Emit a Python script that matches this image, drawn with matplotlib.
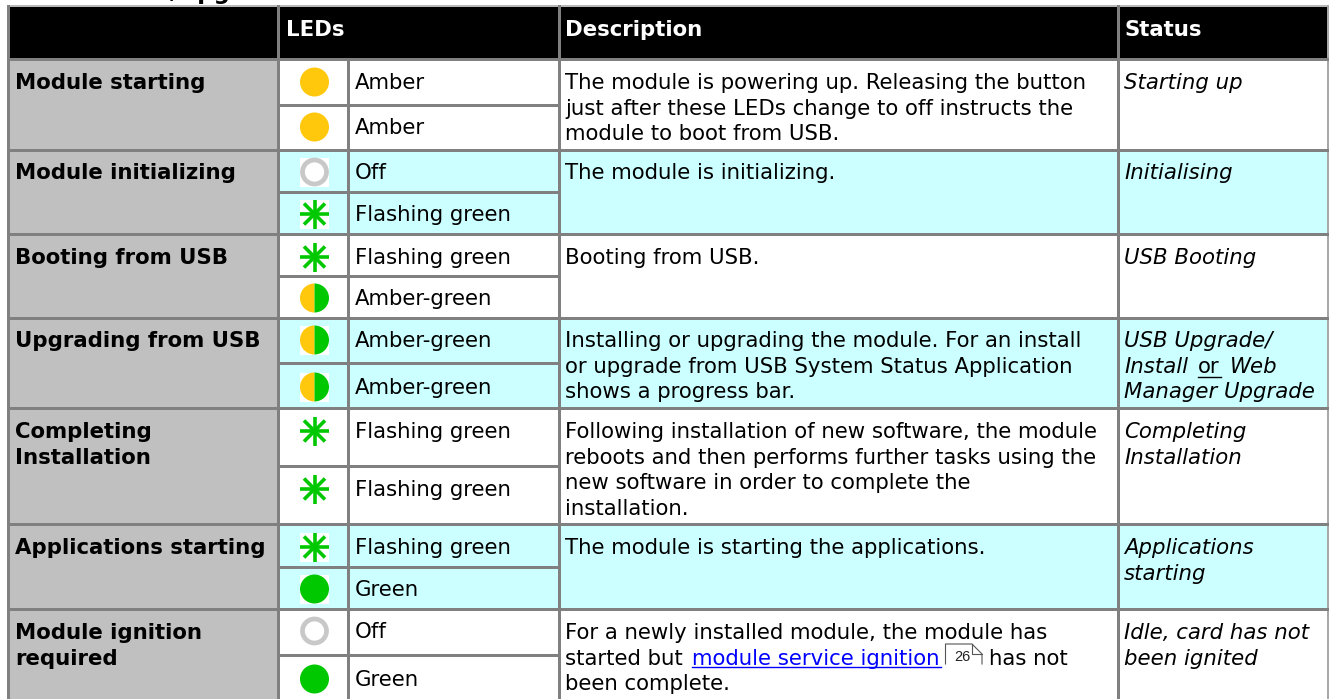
import matplotlib
matplotlib.use("Agg")
import matplotlib.pyplot as plt
from matplotlib.patches import Circle, Rectangle, Wedge

# table content
states = ["Module starting", "Module initializing", "Booting from USB", "Upgrading from USB",
          "Completing\nInstallation", "Applications starting", "Module ignition\nrequired"]
led_kinds = [["amber", "amber"], ["off", "flash"], ["flash", "both"], ["both", "both"],
             ["flash", "flash"], ["flash", "green"], ["off", "green"]]
led_labels = [["Amber", "Amber"], ["Off", "Flashing green"], ["Flashing green", "Amber-green"],
              ["Amber-green", "Amber-green"], ["Flashing green", "Flashing green"],
              ["Flashing green", "Green"], ["Off", "Green"]]
descriptions = [
    "The module is powering up. Releasing the button\njust after these LEDs change to off instructs the\nmodule to boot from USB.",
    "The module is initializing.",
    "Booting from USB.",
    "Installing or upgrading the module. For an install\nor upgrade from USB System Status Application\nshows a progress bar.",
    "Following installation of new software, the module\nreboots and then performs further tasks using the\nnew software in order to complete the\ninstallation.",
    "The module is starting the applications.",
    None,
]
statuses = ["Starting up", "Initialising", "USB Booting", None, "Completing\nInstallation",
            "Applications\nstarting", "Idle, card has not\nbeen ignited"]
headers = ["LEDs", "Description", "Status"]
heading = "Module Boot/Upgrade"

# layout in pixels
W, H = 1329, 699
col_x = [8, 278, 348, 559, 1118, 1328]
group_y = [59, 150, 234, 318, 408, 524, 609, 699]
sub_y = [105, 192, 276, 363, 466, 567, 655]
led_y = [[82, 127], [172, 214], [257, 298], [340, 387], [431, 489], [547, 589], [631, 679]]
text_y = [[88, 133], [178, 220], [263, 304], [346, 393], [437, 495], [553, 595], [637, 685]]
first_base = [88, 178, 263, 346, 437, 553, 638]
group_fill = ["white", "#ccffff", "white", "#ccffff", "white", "#ccffff", "white"]
LINE = 25.6
FS = 15.3
GREY = "#808080"
AMBER = "#ffc80d"
GREEN = "#00c800"

fig = plt.figure(figsize=(W / 100, H / 100), dpi=100)
ax = fig.add_axes([0, 0, 1, 1])
ax.set_xlim(0, W)
ax.set_ylim(H, 0)
ax.axis("off")


def txt(x, y, s, **kw):
    # multi-line text is split so each line sits on its own baseline
    kw.setdefault("color", "black")
    kw.setdefault("fontsize", FS)
    for n, part in enumerate(s.split("\n")):
        ax.text(x, y + 1 + n * LINE, part, va="baseline", ha="left", family="DejaVu Sans", zorder=6, **kw)


def hrule(x0, x1, y, lw=3.0):
    ax.add_patch(Rectangle((x0 - 1.5, y - lw / 2), x1 - x0 + 3, lw, fc=GREY, ec="none", zorder=4))


def vrule(x, y0, y1, lw=3.0):
    ax.add_patch(Rectangle((x - lw / 2, y0), lw, y1 - y0, fc=GREY, ec="none", zorder=4))


def led(cx, cy, kind, square):
    if square:
        ax.add_patch(Rectangle((cx - 14.5, cy - 14.5), 29, 29, fc="white", ec="none", zorder=2))
    if kind == "amber":
        ax.add_patch(Circle((cx, cy), 14.5, fc=AMBER, ec="none", zorder=3))
    elif kind == "green":
        ax.add_patch(Circle((cx, cy), 14.5, fc=GREEN, ec="none", zorder=3))
    elif kind == "off":
        ax.add_patch(Circle((cx, cy), 12, fc="white", ec="#c8c8c8", lw=3.4, zorder=3))
    elif kind == "both":
        ax.add_patch(Wedge((cx, cy), 14.5, 90, 270, fc=AMBER, ec="none", zorder=3))
        ax.add_patch(Wedge((cx, cy), 14.5, 270, 90, fc=GREEN, ec="none", zorder=3))
    else:
        for dx, dy in [(14.5, 0), (0, 14.5), (10.5, 10.5), (10.5, -10.5)]:
            ax.plot([cx - dx, cx + dx], [cy - dy, cy + dy], color=GREEN, lw=2.6,
                    solid_capstyle="butt", zorder=3)


# cell fills
ax.add_patch(Rectangle((col_x[0], 6), col_x[-1] - col_x[0], group_y[0] - 6, fc="black", ec="none"))
ax.add_patch(Rectangle((col_x[0], group_y[0]), col_x[1] - col_x[0], H - group_y[0], fc="#c0c0c0", ec="none"))
for i, c in enumerate(group_fill):
    ax.add_patch(Rectangle((col_x[1], group_y[i]), col_x[-1] - col_x[1], group_y[i + 1] - group_y[i],
                           fc=c, ec="none"))

# rules
ax.add_patch(Rectangle((col_x[0] - 1.5, 4.5), col_x[-1] - col_x[0] + 3, 2.5, fc="#b8b8b8", ec="none", zorder=4))
ax.add_patch(Rectangle((1327, 4.5), 2, H, fc="#a8a8a8", ec="none", zorder=4))
vrule(col_x[0], 5, H)
vrule(col_x[1], 5, H)
vrule(col_x[2], group_y[0], H)
vrule(col_x[3], 5, H)
vrule(col_x[4], 5, H)
for y in group_y[:-1]:
    hrule(col_x[0], col_x[-1], y)
for y in sub_y:
    hrule(col_x[1], col_x[3], y)

# header
for x, name in zip([286, 565, 1124], headers):
    txt(x, 35, name, color="white", weight="bold")

# heading above the table, only its descenders are in frame
txt(8, -2, heading, weight="bold", fontsize=16.5)

for i, name in enumerate(states):
    txt(15, first_base[i], name, weight="bold")
    for j in range(2):
        led(314.5, led_y[i][j], led_kinds[i][j], i % 2 == 1)
        txt(355, text_y[i][j], led_labels[i][j])
    if descriptions[i]:
        txt(565, first_base[i], descriptions[i])
    if statuses[i]:
        txt(1124, first_base[i], statuses[i], style="italic")

# last description has an inline link and a page reference
b = first_base[6]
txt(565, b, "For a newly installed module, the module has")
txt(565, b + LINE, "started but")
txt(692, b + LINE, "module service ignition", color="#0000ff")
ax.plot([692, 941], [667, 667], color="#0000ff", lw=1, zorder=5)
txt(989, b + LINE, "has not")
txt(565, b + 2 * LINE, "been complete.")
ax.plot([945.5, 945.5, 972, 982, 982], [664, 644, 644, 654, 664], color="#555555", lw=0.8, zorder=5)
ax.plot([972, 972, 982], [644, 654, 654], color="#555555", lw=0.8, zorder=5)
ax.text(954, 661, "26", fontsize=10.5, family="Liberation Sans", va="baseline", color="#222222", zorder=6)

# status with mixed styles
b = first_base[3]
txt(1124, b, "USB Upgrade/", style="italic")
txt(1124, b + LINE, "Install", style="italic")
txt(1198, b + LINE, "or")
ax.plot([1198, 1221], [377, 377], color="black", lw=1, zorder=5)
txt(1230, b + LINE, "Web", style="italic")
txt(1124, b + 2 * LINE, "Manager Upgrade", style="italic")

fig.savefig("out.png", dpi=100)
